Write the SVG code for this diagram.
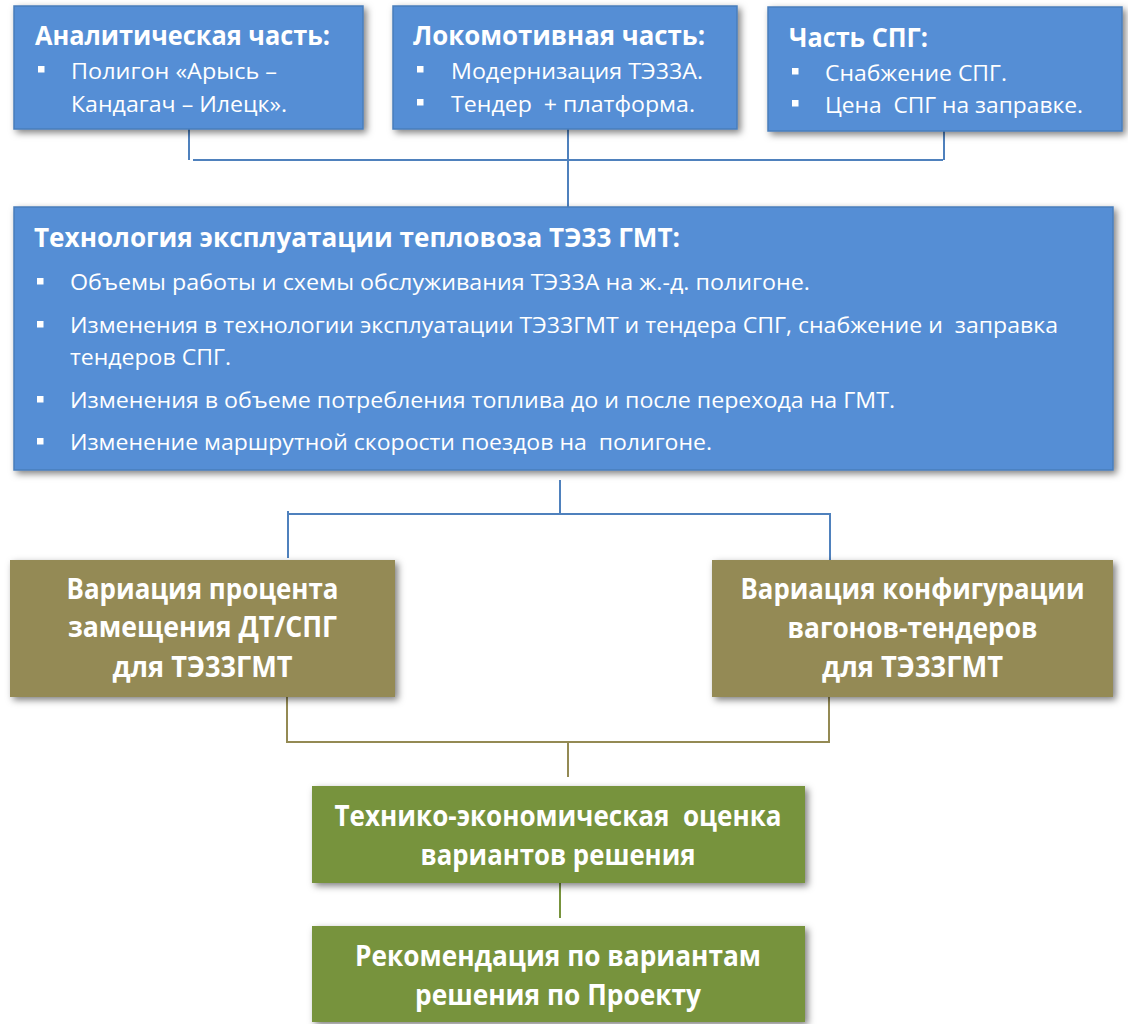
<svg xmlns="http://www.w3.org/2000/svg" width="1128" height="1024" viewBox="0 0 1128 1024">
  <defs>
    <filter id="sh" x="-10%" y="-10%" width="120%" height="130%">
      <feDropShadow dx="3" dy="3" stdDeviation="3.5" flood-color="#000" flood-opacity="0.5"/>
    </filter>
  </defs>
  <style>
    .blue { fill: #558ED5; stroke: #4A7EBB; stroke-width: 1.5; filter: url(#sh); }
    .olive { fill: #948A54; filter: url(#sh); }
    .green { fill: #77933C; filter: url(#sh); }
    .t { font-family: "Open Sans", "Liberation Sans", sans-serif; fill: #FFFFFF; white-space: pre; }
    .h { font-weight: bold; font-size: 26px; }
    .b { font-size: 21.5px; }
    .c { font-weight: bold; font-size: 28px; text-anchor: middle; }
    .bul { fill: #FFFFFF; }
    .cb { stroke: #4F81BD; stroke-width: 2; fill: none; }
    .co { stroke: #948A54; stroke-width: 2; fill: none; }
    .cg { stroke: #77933C; stroke-width: 2; fill: none; }
  </style>

  <g id="connectors">
    <path class="cb" d="M189 129 V160 M193 160 H943 M944 131 V160 M568 129 V207"/>
    <path class="cb" d="M560 480 V514 H830 V563 M288 511 V558 M288 514 H560"/>
    <path class="co" d="M287 697 V742 H830 M829 697 V742 M568 742 V777"/>
    <path class="cg" d="M560 883 V918"/>
  </g>

  <g id="node-analytic">
    <rect class="blue" x="14" y="6" width="349" height="123"/>
    <text class="t h" x="35" y="45" textLength="295" lengthAdjust="spacingAndGlyphs">Аналитическая часть:</text>
    <rect class="bul" x="38" y="66" width="6.5" height="6.5"/>
    <text class="t b" x="71" y="79" textLength="206" lengthAdjust="spacingAndGlyphs">Полигон «Арысь –</text>
    <text class="t b" x="71" y="112" textLength="216" lengthAdjust="spacingAndGlyphs">Кандагач – Илецк».</text>
  </g>

  <g id="node-loco">
    <rect class="blue" x="393" y="6" width="344" height="123"/>
    <text class="t h" x="413" y="45" textLength="292" lengthAdjust="spacingAndGlyphs">Локомотивная часть:</text>
    <rect class="bul" x="417" y="66" width="6.5" height="6.5"/>
    <text class="t b" x="451" y="79" textLength="252" lengthAdjust="spacingAndGlyphs">Модернизация ТЭ33А.</text>
    <rect class="bul" x="417" y="99" width="6.5" height="6.5"/>
    <text class="t b" x="451" y="112" textLength="244" lengthAdjust="spacingAndGlyphs">Тендер  + платформа.</text>
  </g>

  <g id="node-spg">
    <rect class="blue" x="768" y="7" width="354" height="124"/>
    <text class="t h" x="789" y="47" textLength="139" lengthAdjust="spacingAndGlyphs">Часть СПГ:</text>
    <rect class="bul" x="792" y="68" width="6.5" height="6.5"/>
    <text class="t b" x="825" y="81" textLength="182" lengthAdjust="spacingAndGlyphs">Снабжение СПГ.</text>
    <rect class="bul" x="792" y="100" width="6.5" height="6.5"/>
    <text class="t b" x="825" y="113" textLength="258" lengthAdjust="spacingAndGlyphs">Цена  СПГ на заправке.</text>
  </g>

  <g id="node-tech">
    <rect class="blue" x="14" y="207" width="1099" height="263"/>
    <text class="t h" x="34" y="247" textLength="646" lengthAdjust="spacingAndGlyphs">Технология эксплуатации тепловоза ТЭ33 ГМТ:</text>
    <rect class="bul" x="37" y="278" width="6.5" height="6.5"/>
    <text class="t b" x="70" y="290" textLength="740" lengthAdjust="spacingAndGlyphs">Объемы работы и схемы обслуживания ТЭ33А на ж.-д. полигоне.</text>
    <rect class="bul" x="37" y="321" width="6.5" height="6.5"/>
    <text class="t b" x="70" y="333" textLength="988" lengthAdjust="spacingAndGlyphs">Изменения в технологии эксплуатации ТЭ33ГМТ и тендера СПГ, снабжение и  заправка</text>
    <text class="t b" x="70" y="365" textLength="161" lengthAdjust="spacingAndGlyphs">тендеров СПГ.</text>
    <rect class="bul" x="37" y="396" width="6.5" height="6.5"/>
    <text class="t b" x="70" y="408" textLength="825" lengthAdjust="spacingAndGlyphs">Изменения в объеме потребления топлива до и после перехода на ГМТ.</text>
    <rect class="bul" x="37" y="438" width="6.5" height="6.5"/>
    <text class="t b" x="70" y="450" textLength="642" lengthAdjust="spacingAndGlyphs">Изменение маршрутной скорости поездов на  полигоне.</text>
  </g>

  <g id="node-var-percent">
    <rect class="olive" x="10" y="560" width="385" height="137"/>
    <text class="t c" x="202.5" y="599" textLength="272" lengthAdjust="spacingAndGlyphs">Вариация процента</text>
    <text class="t c" x="202.5" y="637" textLength="269" lengthAdjust="spacingAndGlyphs">замещения ДТ/СПГ</text>
    <text class="t c" x="202.5" y="677" textLength="180" lengthAdjust="spacingAndGlyphs">для ТЭ33ГМТ</text>
  </g>

  <g id="node-var-config">
    <rect class="olive" x="712" y="560" width="401" height="137"/>
    <text class="t c" x="912.5" y="599" textLength="344" lengthAdjust="spacingAndGlyphs">Вариация конфигурации</text>
    <text class="t c" x="912.5" y="638" textLength="250" lengthAdjust="spacingAndGlyphs">вагонов-тендеров</text>
    <text class="t c" x="912.5" y="677" textLength="181" lengthAdjust="spacingAndGlyphs">для ТЭ33ГМТ</text>
  </g>

  <g id="node-assessment">
    <rect class="green" x="312" y="786" width="493" height="97"/>
    <text class="t c" x="558" y="826" textLength="447" lengthAdjust="spacingAndGlyphs">Технико-экономическая  оценка</text>
    <text class="t c" x="558" y="865" textLength="275" lengthAdjust="spacingAndGlyphs">вариантов решения</text>
  </g>

  <g id="node-recommendation">
    <rect class="green" x="312" y="926" width="493" height="96"/>
    <text class="t c" x="558" y="966" textLength="406" lengthAdjust="spacingAndGlyphs">Рекомендация по вариантам</text>
    <text class="t c" x="558" y="1005" textLength="286" lengthAdjust="spacingAndGlyphs">решения по Проекту</text>
  </g>
</svg>
